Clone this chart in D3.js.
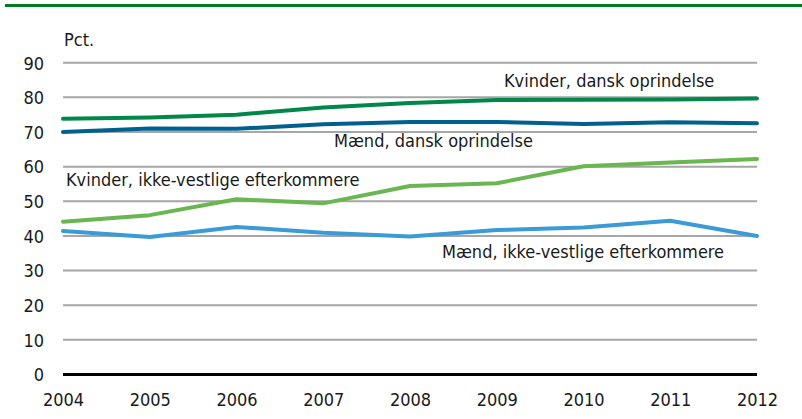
<!DOCTYPE html>
<html><head><meta charset="utf-8">
<script src="https://cdn.jsdelivr.net/npm/d3@7"></script>
<style>body{margin:0;background:#fff}svg{display:block}text{font-family:"DejaVu Sans Condensed","DejaVu Sans",sans-serif;fill:#1a1a1a}</style>
</head><body><svg id="c" width="802" height="419"></svg>
<script>
const years = [2004,2005,2006,2007,2008,2009,2010,2011,2012];
const kvinderDansk = [73.8,74.2,75.0,77.1,78.4,79.2,79.3,79.4,79.7];
const maendDansk = [70.0,71.0,70.9,72.2,72.9,72.9,72.3,72.8,72.5];
const kvinderIkkeVestlige = [44.1,46.0,50.6,49.4,54.4,55.2,60.1,61.2,62.2];
const maendIkkeVestlige = [41.4,39.7,42.6,40.9,39.8,41.7,42.4,44.4,40.0];
const yTicks = [0,10,20,30,40,50,60,70,80,90];
const seriesNames = ["Kvinder, dansk oprindelse","Mænd, dansk oprindelse","Kvinder, ikke-vestlige efterkommere","Mænd, ikke-vestlige efterkommere"];
const colors = ["#00884a","#00618f","#6ab650","#3b9bd6"];
const unitLabel = "Pct.";

const svg = d3.select("#c");
const x = d3.scaleLinear().domain([2004,2012]).range([63,757]);
const y = d3.scaleLinear().domain([0,90]).range([374.5,62.7]);

svg.append("line").attr("x1",5).attr("x2",802).attr("y1",5.5).attr("y2",5.5)
  .attr("stroke","#007a1f").attr("stroke-width",3);

// grid
svg.append("g").selectAll("line").data(yTicks.filter(d=>d>0)).join("line")
  .attr("x1",x(2004)).attr("x2",x(2012)).attr("y1",d=>y(d)).attr("y2",d=>y(d))
  .attr("stroke","#a6a6a6").attr("stroke-width",2);

// y axis labels
const yAxis = d3.axisLeft(y).tickValues(yTicks).tickSize(0).tickPadding(0);
const gy = svg.append("g").attr("transform","translate(44,0)").call(yAxis);
gy.select(".domain").remove();
gy.selectAll("text").style("font-size","18px").attr("fill","#1a1a1a").attr("dy","0.35em");

// x axis labels
const xAxis = d3.axisBottom(x).tickValues(years).tickFormat(d3.format("d")).tickSize(0).tickPadding(0);
const gx = svg.append("g").attr("transform","translate(0,393)").call(xAxis);
gx.select(".domain").remove();
gx.selectAll("text").style("font-size","18px").attr("fill","#1a1a1a").attr("dy","0.71em");

// zero line
svg.append("line").attr("x1",x(2004)).attr("x2",x(2012)).attr("y1",y(0)).attr("y2",y(0))
  .attr("stroke","#000").attr("stroke-width",3);

svg.append("text").attr("x",64).attr("y",46).style("font-size","18px").text(unitLabel);

const allSeries = [kvinderDansk,maendDansk,kvinderIkkeVestlige,maendIkkeVestlige];
const line = d3.line().x((d,i)=>x(years[i])).y(d=>y(d));
svg.append("g").selectAll("path").data(allSeries).join("path")
  .attr("d",line).attr("fill","none").attr("stroke",(d,i)=>colors[i])
  .attr("stroke-width",4).attr("stroke-linejoin","round").attr("stroke-linecap","round");

const labelPos = [[504,87],[334,147],[66,186],[442,258]];
svg.append("g").selectAll("text").data(seriesNames).join("text")
  .attr("x",(d,i)=>labelPos[i][0]).attr("y",(d,i)=>labelPos[i][1])
  .style("font-size","18px").text(d=>d);
</script></body></html>
